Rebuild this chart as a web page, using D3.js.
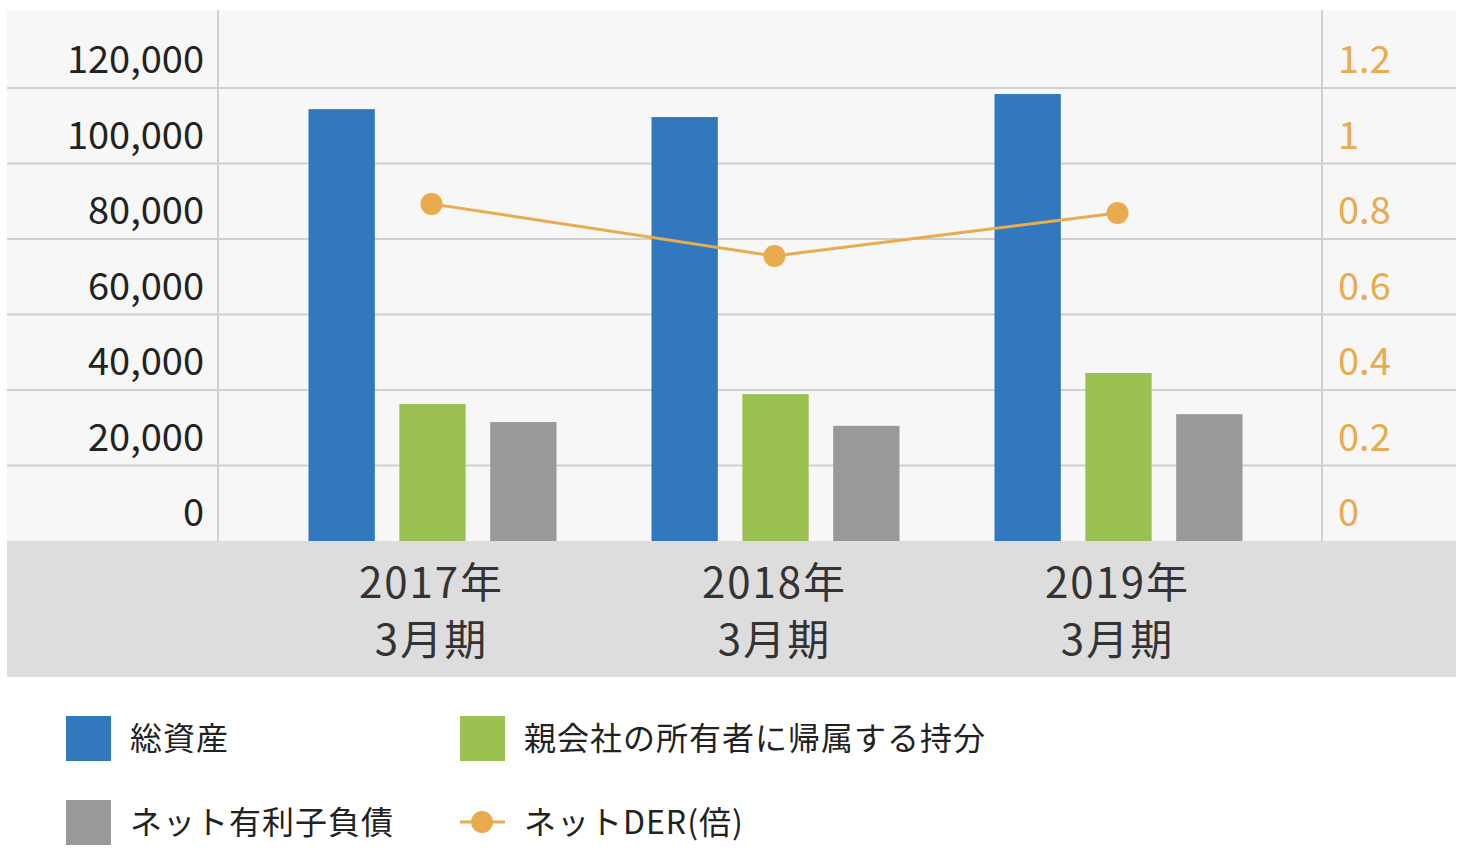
<!DOCTYPE html><html><head><meta charset="utf-8"><script src="https://cdn.jsdelivr.net/npm/d3@7"></script>
<style>body{margin:0;background:#fff}text{font-family:"Noto Sans CJK JP","Noto Sans",sans-serif}</style></head><body>
<svg id="c" width="1464" height="862"></svg>
<script>
const categories=["2017年|3月期","2018年|3月期","2019年|3月期"];
const totalAssets=[114400,112300,118400];
const equity=[36300,38900,44500];
const netDebt=[31500,30500,33600];
const netDER=[0.893,0.755,0.869];
const leftTicks=[0,20000,40000,60000,80000,100000,120000];
const rightTicks=[0,0.2,0.4,0.6,0.8,1,1.2];
const colors={blue:"#3278be",green:"#9bc153",gray:"#999999",orange:"#e8ab4e"};
const svg=d3.select("#c");
const y=d3.scaleLinear().domain([0,120000]).range([541,88]);
const y2=d3.scaleLinear().domain([0,1.2]).range([541,88]);
const x=d3.scaleBand().domain(categories).range([260,1289]).paddingInner(0);
const sub=d3.scaleBand().domain([0,1,2]).range([-123,125]).paddingInner(0.27);
svg.append("rect").attr("x",7).attr("y",10).attr("width",1449).attr("height",531).attr("fill","#f7f7f7");
svg.append("rect").attr("x",7).attr("y",541).attr("width",1449).attr("height",136).attr("fill","#dddddd");
leftTicks.forEach(t=>{if(t>0)svg.append("line").attr("x1",7).attr("x2",1456).attr("y1",y(t)).attr("y2",y(t)).attr("stroke","#d0d0d0").attr("stroke-width",2);});
[218,1322].forEach(v=>svg.append("line").attr("x1",v).attr("x2",v).attr("y1",10).attr("y2",541).attr("stroke","#d0d0d0").attr("stroke-width",2));
const fmt=d3.format(",");
svg.selectAll(".lt").data(leftTicks).join("text").attr("x",204).attr("y",d=>y(d)-15).attr("text-anchor","end").attr("font-size",38).attr("fill","#222").text(d=>fmt(d));
svg.selectAll(".rt").data(rightTicks).join("text").attr("x",1338).attr("y",d=>y2(d)-15).attr("font-size",38).attr("fill",colors.orange).text(d=>d);
const series=[[totalAssets,colors.blue],[equity,colors.green],[netDebt,colors.gray]];
series.forEach(([vals,c],i)=>{
 svg.selectAll(null).data(vals).join("rect").attr("x",(d,j)=>x(categories[j])+x.bandwidth()/2+sub(i)).attr("width",sub.bandwidth()).attr("y",d=>y(d)).attr("height",d=>541-y(d)).attr("fill",c);
});
const cx=(d,j)=>x(categories[j])+x.bandwidth()/2;
svg.append("path").datum(netDER).attr("d",d3.line().x((d,j)=>cx(d,j)).y(d=>y2(d))).attr("fill","none").attr("stroke",colors.orange).attr("stroke-width",3);
svg.selectAll(null).data(netDER).join("circle").attr("cx",cx).attr("cy",d=>y2(d)).attr("r",11).attr("fill",colors.orange);
categories.forEach((c,j)=>{const p=c.split("|");
 p.forEach((s,k)=>svg.append("text").attr("x",cx(0,j)).attr("y",598+k*57).attr("text-anchor","middle").attr("font-size",42).attr("fill","#333").attr("letter-spacing",2).text(s));});
const leg=[["総資産",colors.blue,66,738,"rect"],["親会社の所有者に帰属する持分",colors.green,460,738,"rect"],["ネット有利子負債",colors.gray,66,822,"rect"],["ネットDER(倍)",colors.orange,460,822,"line"]];
leg.forEach(([t,c,lx,ly,k])=>{
 if(k==="rect")svg.append("rect").attr("x",lx).attr("y",ly-22).attr("width",45).attr("height",45).attr("fill",c);
 else{svg.append("line").attr("x1",lx).attr("x2",lx+45).attr("y1",ly).attr("y2",ly).attr("stroke",c).attr("stroke-width",3);svg.append("circle").attr("cx",lx+22).attr("cy",ly).attr("r",11).attr("fill",c);}
 svg.append("text").attr("x",lx+64).attr("y",ly+12).attr("font-size",32).attr("fill","#222").attr("letter-spacing",1).text(t);
});
</script></body></html>
